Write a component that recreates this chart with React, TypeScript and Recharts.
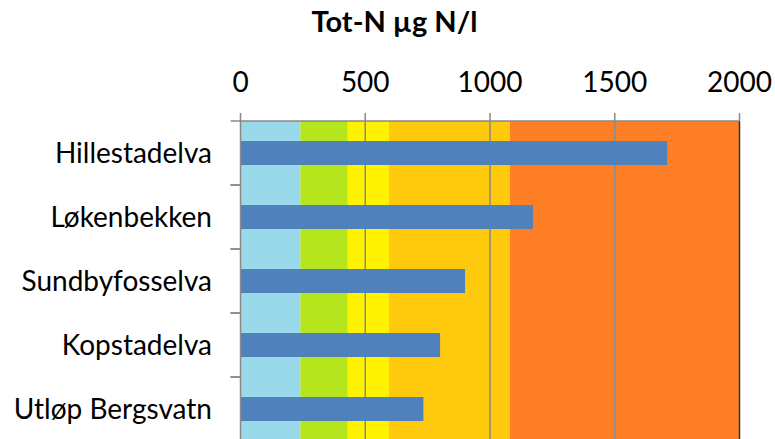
import React from 'react';
import { BarChart, Bar, XAxis, YAxis, ReferenceArea, ReferenceLine } from 'recharts';

const categories = ['Hillestadelva', 'Løkenbekken', 'Sundbyfosselva', 'Kopstadelva', 'Utløp Bergsvatn'];
const totN = [1710, 1172, 900, 800, 733];
const xTicks = [0, 500, 1000, 1500, 2000];
const classLimits = [0, 240, 430, 595, 1080, 2000];
const classColors = ['#99D9EA', '#B5E61D', '#FFF200', '#FFC90E', '#FF7F27'];
const gridValues = [500, 1000, 1500];

const data = categories.map((name, i) => ({ name, value: totN[i] }));

const FONT = 'Lato, "Noto Sans", sans-serif';
const GRAY = '#898989';

const CHART_W = 775;
const CHART_H = 446;
const X_AXIS_H = 121;
const MARGIN = { top: 0, right: 35.5, bottom: 5, left: 0.5 };
const TICK_MARGIN = 28.5;
const TICK_LEN = 10;

function CategoryTick(props: any) {
  const { x, y, payload, visibleTicksCount, height } = props;
  const plotH = typeof height === 'number' && height > 0 ? height : CHART_H - MARGIN.bottom - MARGIN.top - X_AXIS_H;
  const n = visibleTicksCount || categories.length;
  const half = plotH / n / 2;
  const axisX = x + TICK_MARGIN;
  return (
    <g>
      <line x1={axisX - TICK_LEN} x2={axisX} y1={y - half} y2={y - half} stroke={GRAY} strokeWidth={1.5} />
      <line x1={axisX - TICK_LEN} x2={axisX} y1={y + half} y2={y + half} stroke={GRAY} strokeWidth={1.5} />
      <text x={x} y={y} dy="0.355em" textAnchor="end" fill="#000" fontSize={28} fontFamily={FONT}>
        {payload.value}
      </text>
    </g>
  );
}

export default function App() {
  return (
    <div style={{ position: 'fixed', left: 0, top: 0, width: 775, height: 439, overflow: 'hidden', background: '#fff' }}>
      <div
        style={{
          position: 'absolute',
          left: 0,
          top: 4,
          width: 789,
          textAlign: 'center',
          fontFamily: FONT,
          fontWeight: 700,
          fontSize: 29,
          lineHeight: 1.2,
          color: '#000',
        }}
      >
        Tot-N µg N/l
      </div>
      <BarChart width={CHART_W} height={CHART_H} data={data} layout="vertical" margin={MARGIN}>
        <XAxis
          type="number"
          orientation="top"
          domain={[0, 2000]}
          ticks={xTicks}
          allowDataOverflow
          height={X_AXIS_H}
          tickSize={8}
          tickMargin={21}
          interval={0}
          axisLine={{ stroke: GRAY, strokeWidth: 1.5 }}
          tickLine={{ stroke: GRAY, strokeWidth: 1.5 }}
          tick={{ fill: '#000', fontSize: 28, fontFamily: FONT }}
        />
        <YAxis
          type="category"
          dataKey="name"
          width={240}
          tickSize={0}
          tickMargin={TICK_MARGIN}
          interval={0}
          axisLine={{ stroke: GRAY, strokeWidth: 1.5 }}
          tickLine={false}
          tick={<CategoryTick />}
        />
        {classColors.map((c, i) => (
          <ReferenceArea
            key={'band' + i}
            x1={classLimits[i]}
            x2={classLimits[i + 1]}
            fill={c}
            fillOpacity={1}
            stroke="none"
            zIndex={50}
          />
        ))}
        {gridValues.map((v) => (
          <ReferenceLine key={'g' + v} x={v} stroke={GRAY} strokeWidth={1.5} zIndex={100} />
        ))}
        <ReferenceLine x={2000} stroke="#333" strokeWidth={1.5} zIndex={100} />
        <Bar dataKey="value" fill="#4F81BD" barSize={24} isAnimationActive={false} zIndex={300} />
      </BarChart>
    </div>
  );
}
